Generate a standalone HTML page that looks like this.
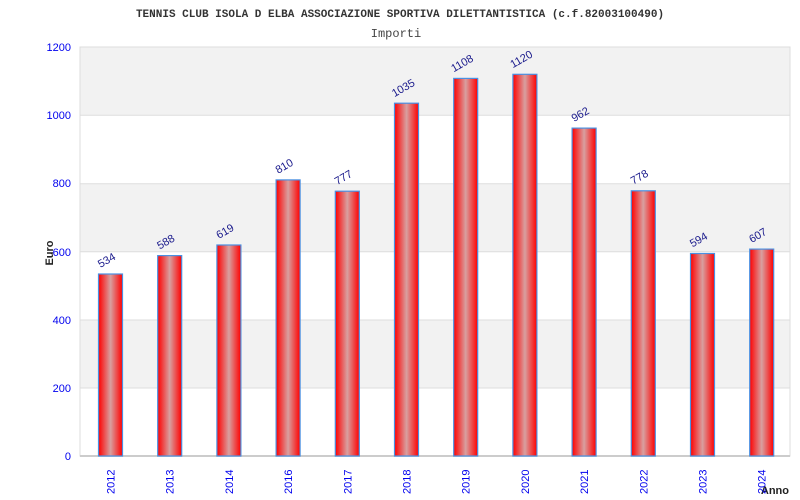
<!DOCTYPE html>
<html><head><meta charset="utf-8"><style>
html,body{margin:0;padding:0;background:#fff;}
svg{display:block;}
</style></head><body>
<svg width="800" height="500" xmlns="http://www.w3.org/2000/svg">
<defs>
<linearGradient id="g" x1="0" x2="1" y1="0" y2="0">
<stop offset="0" stop-color="#ff0000"/>
<stop offset="0.5" stop-color="#d8a0a0"/>
<stop offset="1" stop-color="#ff0000"/>
</linearGradient>
</defs>
<text x="400" y="17" text-anchor="middle" font-family="Liberation Mono, monospace" font-weight="bold" font-size="11" fill="#333">TENNIS CLUB ISOLA D ELBA ASSOCIAZIONE SPORTIVA DILETTANTISTICA (c.f.82003100490)</text>
<text x="396" y="37" text-anchor="middle" font-family="Liberation Mono, monospace" font-size="12" fill="#444">Importi</text>
<rect x="80" y="47" width="710" height="409" fill="#fff" stroke="#ddd"/>
<rect x="80.5" y="47.5" width="709" height="68" fill="#f2f2f2"/>
<rect x="80.5" y="183.7" width="709" height="68.2" fill="#f2f2f2"/>
<rect x="80.5" y="320" width="709" height="68" fill="#f2f2f2"/>
<g stroke="#ddd" stroke-width="1">
<line x1="80" x2="790" y1="115.3" y2="115.3"/>
<line x1="80" x2="790" y1="183.7" y2="183.7"/>
<line x1="80" x2="790" y1="251.8" y2="251.8"/>
<line x1="80" x2="790" y1="320" y2="320"/>
<line x1="80" x2="790" y1="388" y2="388"/>
<line x1="80" x2="790" y1="456" y2="456" stroke="#ccc" stroke-width="2"/>
</g>
<g font-family="Liberation Sans, sans-serif" font-size="11" fill="#0000ee" text-anchor="end">
<text x="71" y="51">1200</text>
<text x="71" y="119">1000</text>
<text x="71" y="187">800</text>
<text x="71" y="256">600</text>
<text x="71" y="324">400</text>
<text x="71" y="392">200</text>
<text x="71" y="460">0</text>
</g>
<text transform="translate(53,253) rotate(-90)" text-anchor="middle" font-family="Liberation Sans, sans-serif" font-weight="bold" font-size="11" fill="#222">Euro</text>
<text x="789" y="494" text-anchor="end" font-family="Liberation Sans, sans-serif" font-weight="bold" font-size="11" fill="#222">Anno</text>
<g fill="url(#g)" stroke="#4a90e2" stroke-width="1.2">
<rect x="98.5" y="274" width="24" height="182"/>
<rect x="157.7" y="255.6" width="24" height="200.4"/>
<rect x="216.9" y="245" width="24" height="211"/>
<rect x="276.1" y="179.9" width="24" height="276.1"/>
<rect x="335.3" y="191.2" width="24" height="264.8"/>
<rect x="394.5" y="103.2" width="24" height="352.8"/>
<rect x="453.7" y="78.4" width="24" height="377.6"/>
<rect x="512.9" y="74.3" width="24" height="381.7"/>
<rect x="572.1" y="128.1" width="24" height="327.9"/>
<rect x="631.3" y="190.8" width="24" height="265.2"/>
<rect x="690.5" y="253.5" width="24" height="202.5"/>
<rect x="749.7" y="249.1" width="24" height="206.9"/>
</g>
<g font-family="Liberation Sans, sans-serif" font-size="11" fill="#1a1a8c">
<text transform="translate(100.5,268) rotate(-30)">534</text>
<text transform="translate(159.7,249.6) rotate(-30)">588</text>
<text transform="translate(218.9,239) rotate(-30)">619</text>
<text transform="translate(278.1,173.9) rotate(-30)">810</text>
<text transform="translate(337.3,185.2) rotate(-30)">777</text>
<text transform="translate(394.5,97.2) rotate(-30)">1035</text>
<text transform="translate(453.7,72.4) rotate(-30)">1108</text>
<text transform="translate(512.9,68.3) rotate(-30)">1120</text>
<text transform="translate(574.1,122.1) rotate(-30)">962</text>
<text transform="translate(633.3,184.8) rotate(-30)">778</text>
<text transform="translate(692.5,247.5) rotate(-30)">594</text>
<text transform="translate(751.7,243.1) rotate(-30)">607</text>
</g>
<g font-family="Liberation Sans, sans-serif" font-size="11" fill="#0000ee">
<text transform="translate(114.5,494) rotate(-90)">2012</text>
<text transform="translate(173.7,494) rotate(-90)">2013</text>
<text transform="translate(232.9,494) rotate(-90)">2014</text>
<text transform="translate(292.1,494) rotate(-90)">2016</text>
<text transform="translate(351.3,494) rotate(-90)">2017</text>
<text transform="translate(410.5,494) rotate(-90)">2018</text>
<text transform="translate(469.7,494) rotate(-90)">2019</text>
<text transform="translate(528.9,494) rotate(-90)">2020</text>
<text transform="translate(588.1,494) rotate(-90)">2021</text>
<text transform="translate(647.3,494) rotate(-90)">2022</text>
<text transform="translate(706.5,494) rotate(-90)">2023</text>
<text transform="translate(765.7,494) rotate(-90)">2024</text>
</g>
</svg>
</body></html>
